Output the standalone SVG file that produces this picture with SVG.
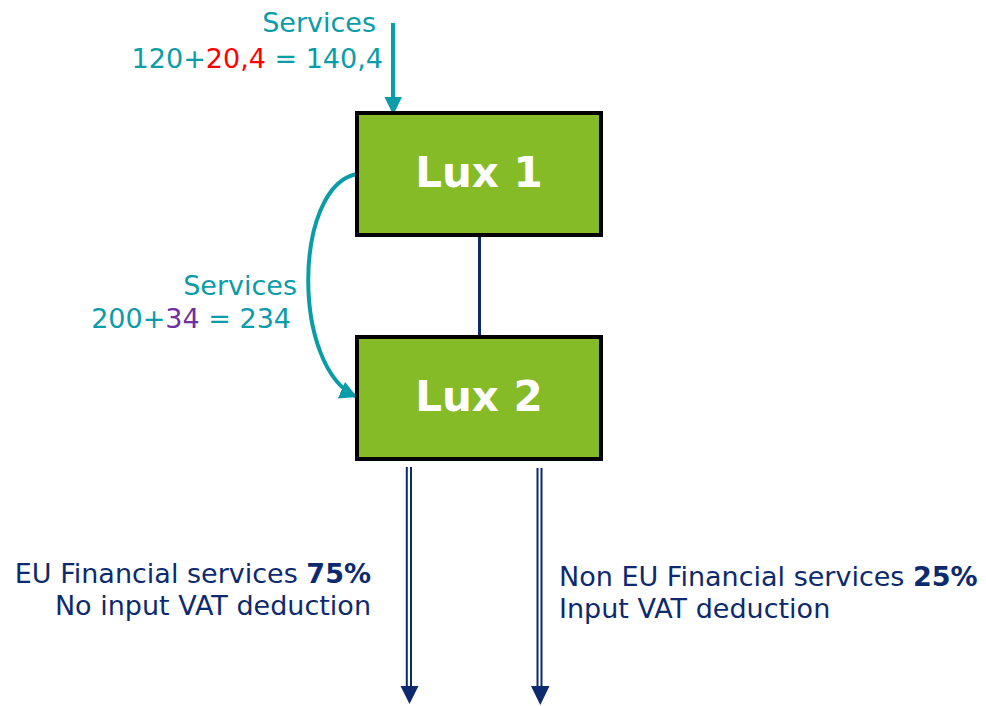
<svg xmlns="http://www.w3.org/2000/svg" width="986" height="706" viewBox="0 0 986 706">
  <style>
    .lbl { font-family: "DejaVu Sans", Verdana, sans-serif; font-size: 27px; }
    .teal { fill: #0A9CA8; }
    .navy { fill: #0D2A6E; }
    .box { fill: #86BB28; stroke: #000000; stroke-width: 4; }
    .boxtxt { font-family: "DejaVu Sans", Verdana, sans-serif; font-size: 42px; font-weight: bold; fill: #FFFFFF; text-anchor: middle; }
    .flow { fill: none; stroke: #0A9CA8; stroke-width: 4; }
    .link { fill: none; stroke: #0D2A6E; stroke-width: 3; }
    .rail { fill: none; stroke: #0D2A6E; stroke-width: 2; }
  </style>
  <defs>
    <marker id="tealHead" markerUnits="userSpaceOnUse" markerWidth="20" markerHeight="20" refX="17" refY="9" orient="auto">
      <path d="M0,0 L17,9 L0,18 Z" fill="#0A9CA8"/>
    </marker>
  </defs>

  <rect width="986" height="706" fill="#FFFFFF"/>

  <!-- connectors -->
  <g id="connectors">
    <!-- incoming services into Lux 1 -->
    <path class="flow" d="M393,23 L393,98"/>
    <path d="M384.5,97 L402,97 L393.2,115 Z" fill="#0A9CA8"/>
    <!-- services from Lux 1 to Lux 2 -->
    <path class="flow" d="M357,174 C293,186 291,368 357,397" marker-end="url(#tealHead)"/>
    <!-- link between the two entities -->
    <path class="link" d="M479.5,236 L479.5,337"/>
    <!-- outgoing supplies -->
    <path class="rail" d="M406.8,467 L406.8,690 M411,467 L411,690"/>
    <path d="M400.5,686 L418.5,686 L409.5,704 Z" fill="#0D2A6E"/>
    <path class="rail" d="M537.5,468 L537.5,690 M541.5,468 L541.5,690"/>
    <path d="M531,686 L549.5,686 L540.3,705 Z" fill="#0D2A6E"/>
  </g>

  <g id="lux1">
    <rect class="box" x="357" y="113" width="244" height="122"/>
    <text class="boxtxt" x="479" y="187">Lux 1</text>
  </g>

  <g id="lux2">
    <rect class="box" x="357" y="337" width="244" height="122"/>
    <text class="boxtxt" x="479" y="411">Lux 2</text>
  </g>

  <g id="label-top">
    <text class="lbl teal" x="376" y="32" text-anchor="end">Services</text>
    <text class="lbl teal" x="383" y="68" text-anchor="end">120+<tspan fill="#FF0000">20,4</tspan> = 140,4</text>
  </g>

  <g id="label-middle">
    <text class="lbl teal" x="297" y="295" text-anchor="end">Services</text>
    <text class="lbl teal" x="291" y="328" text-anchor="end">200+<tspan fill="#7030A0">34</tspan> = 234</text>
  </g>

  <g id="label-eu">
    <text class="lbl navy" x="371" y="583" text-anchor="end">EU Financial services <tspan font-weight="bold">75%</tspan></text>
    <text class="lbl navy" x="371" y="615" text-anchor="end">No input VAT deduction</text>
  </g>

  <g id="label-noneu">
    <text class="lbl navy" x="559" y="586">Non EU Financial services <tspan font-weight="bold">25%</tspan></text>
    <text class="lbl navy" x="559" y="618">Input VAT deduction</text>
  </g>
</svg>
